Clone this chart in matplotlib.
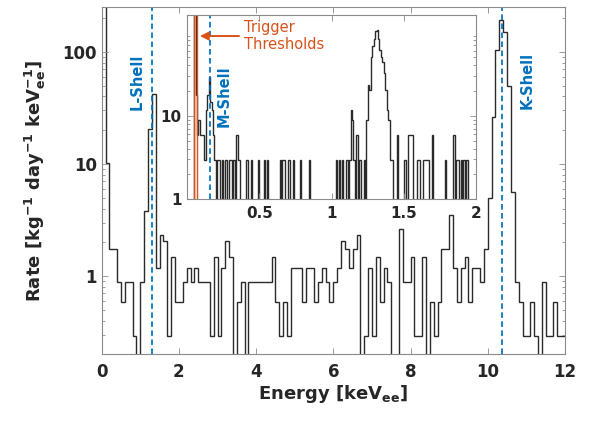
import numpy as np
import matplotlib
matplotlib.use("Agg")
import matplotlib.pyplot as plt
from matplotlib.ticker import LogLocator, NullFormatter, NullLocator

plt.rcParams['font.family'] = ['DejaVu Sans']
plt.rcParams['font.weight'] = 'bold'
plt.rcParams['mathtext.default'] = 'bf'

# ---------------- data ----------------
# main spectrum: counts per 0.1 keV bin, 0-12 keV
main_bin_width = 0.1
main_counts = [
    3000, 35, 6, 6, 3, 2, 3, 3, 1, 0,
    3, 13, 70, 143, 4, 8, 7, 1, 5, 2,
    2, 3, 4, 3, 4, 3, 3, 3, 1, 5,
    1, 4, 7, 5, 0, 2, 3, 0, 3, 3,
    3, 3, 3, 3, 5, 2, 1, 2, 1, 4,
    4, 4, 2, 4, 4, 2, 3, 4, 3, 2,
    3, 4, 7, 6, 4, 6, 8, 0, 1, 4,
    1, 5, 2, 4, 3, 0, 0, 9, 3, 3,
    5, 1, 1, 5, 0, 2, 1, 2, 6, 6,
    12, 4, 2, 4, 5, 2, 4, 4, 3, 6,
    17, 90, 353, 653, 514, 169, 19, 3, 2, 1,
    1, 2, 1, 0, 3, 1, 1, 2, 1, 1,
]
main_rate_per_count = 0.293   # kg^-1 day^-1 keV^-1 per count (0.1 keV bins)

# inset spectrum: counts per 0.01 keV bin, 0-2 keV
inset_bin_width = 0.01
inset_counts = [
    0, 0, 0, 0, 0, 300, 6, 2, 3, 2,  2, 2, 1, 4, 6, 10, 5, 4, 2, 1,
    0, 1, 1, 0, 1, 0, 1, 1, 0, 1,  1, 0, 1, 0, 2, 1, 1, 0, 0, 0,
    0, 1, 0, 0, 1, 0, 0, 0, 0, 1,  0, 0, 0, 1, 0, 1, 0, 0, 0, 0,
    0, 0, 0, 0, 1, 0, 1, 1, 0, 0,  1, 0, 0, 1, 0, 0, 0, 0, 1, 0,
    0, 0, 0, 0, 1, 0, 0, 0, 0, 0,  0, 0, 0, 0, 0, 0, 0, 0, 0, 0,
    0, 0, 0, 1, 0, 1, 0, 1, 0, 0,  1, 0, 1, 4, 3, 1, 0, 2, 0, 1,
    0, 0, 1, 0, 3, 8, 7, 17, 23, 28,  35, 36, 28, 21, 17, 15, 11, 7, 4, 3,
    1, 1, 0, 0, 0, 2, 0, 0, 0, 0,  1, 0, 0, 2, 2, 2, 0, 0, 0, 1,
    1, 0, 0, 1, 1, 1, 1, 0, 0, 2,  0, 0, 0, 0, 0, 0, 0, 0, 1, 0,
    0, 0, 0, 0, 2, 0, 1, 1, 0, 1,  0, 1, 0, 1, 0, 0, 0, 0, 0, 0,
]
inset_rate_per_count = 2.93   # per count (0.01 keV bins)

l_shell = 1.30
k_shell = 10.37
m_shell = 0.16
trigger_thresholds = [0.052, 0.070]

main_xticks = [0, 2, 4, 6, 8, 10, 12]
main_yticks = [1, 10, 100]
inset_xticks = [0.5, 1, 1.5, 2]
inset_yticks = [1, 10]

# ---------------- style ----------------
blue = '#0072BD'
orange = '#D95319'
hist_c = '#2a2a2a'
spine_c = '#8a8a8a'
text_c = '#262626'

fig = plt.figure(figsize=(5.9, 4.22), dpi=100)
ax = fig.add_axes([0.1724, 0.1604, 0.7852, 0.8223])

main_edges = np.arange(len(main_counts) + 1) * main_bin_width
main_rates = np.array(main_counts, dtype=float) * main_rate_per_count
main_draw = np.where(main_rates > 0, main_rates, 1e-4)
ax.stairs(main_draw, main_edges, color=hist_c, lw=1.0, baseline=None)

ax.set_yscale('log')
ax.set_xlim(0, 12)
ax.set_ylim(0.2, 250)

dash = (0, (3.2, 2.0))
ax.axvline(l_shell, color=blue, lw=1.25, ls=dash)
ax.axvline(k_shell, color=blue, lw=1.25, ls=dash)
ax.text(0.93, 54, 'L-Shell', rotation=90, ha='center', va='center',
        color=blue, fontsize=10.5, fontweight='bold')
ax.text(11.03, 56, 'K-Shell', rotation=90, ha='center', va='center',
        color=blue, fontsize=10.5, fontweight='bold')

ax.set_xticks(main_xticks)
ax.set_xticklabels([str(t) for t in main_xticks])
ax.xaxis.set_minor_locator(NullLocator())
ax.set_yticks(main_yticks)
ax.set_yticklabels([str(t) for t in main_yticks])
ax.yaxis.set_minor_locator(LogLocator(base=10, subs=np.arange(2, 10), numticks=30))
ax.yaxis.set_minor_formatter(NullFormatter())

ax.set_xlabel('Energy [keV$_{ee}$]', fontsize=13, fontweight='bold', color=text_c, labelpad=2)
ax.set_ylabel('Rate [kg$^{-1}$ day$^{-1}$ keV$_{ee}^{-1}$]', fontsize=13,
              fontweight='bold', color=text_c, labelpad=10)

ax.tick_params(axis='x', which='major', pad=6)
ax.tick_params(axis='y', which='major', pad=3.5)
ax.tick_params(which='both', labelsize=12)

# ---------------- inset ----------------
axin = fig.add_axes([0.3168, 0.5277, 0.4908, 0.4368])
axin.set_facecolor('white')
inset_edges = np.arange(len(inset_counts) + 1) * inset_bin_width
inset_rates = np.array(inset_counts, dtype=float) * inset_rate_per_count
inset_draw = np.where(inset_rates > 0, inset_rates, 1e-3)
axin.stairs(inset_draw, inset_edges, color=hist_c, lw=1.0, baseline=None)
axin.set_yscale('log')
axin.set_xlim(0, 2)
axin.set_ylim(1, 160)

for thr in trigger_thresholds:
    axin.axvline(thr, color=orange, lw=1.0)
axin.axvline(m_shell, color=blue, lw=1.25, ls=dash)
axin.text(0.256, 16.9, 'M-Shell', rotation=90, ha='center', va='center',
          color=blue, fontsize=10.5, fontweight='bold')
axin.text(0.394, 89.6, 'Trigger\nThresholds', ha='left', va='center',
          color=orange, fontsize=10.5, fontweight='normal', linespacing=1.15)
axin.annotate('', xy=(0.09, 89.6), xytext=(0.36, 89.6),
              arrowprops=dict(arrowstyle='-|>', color=orange, lw=1.4,
                              mutation_scale=12, shrinkA=0, shrinkB=0))

axin.set_xticks(inset_xticks)
axin.set_xticklabels(['0.5', '1', '1.5', '2'])
axin.xaxis.set_minor_locator(NullLocator())
axin.set_yticks(inset_yticks)
axin.set_yticklabels(['1', '10'])
axin.yaxis.set_minor_locator(LogLocator(base=10, subs=np.arange(2, 10), numticks=30))
axin.yaxis.set_minor_formatter(NullFormatter())
axin.tick_params(axis='x', which='major', pad=5)
axin.tick_params(axis='y', which='major', pad=4)
axin.tick_params(which='both', labelsize=11)

for a in (ax, axin):
    a.tick_params(which='both', direction='in', top=True, right=True,
                  color=spine_c, labelcolor=text_c)
    a.tick_params(which='major', length=4.5, width=0.6)
    a.tick_params(which='minor', length=2.5, width=0.6)
    for s in a.spines.values():
        s.set_color(spine_c)
        s.set_linewidth(0.8)

fig.savefig('out.png', dpi=100)
